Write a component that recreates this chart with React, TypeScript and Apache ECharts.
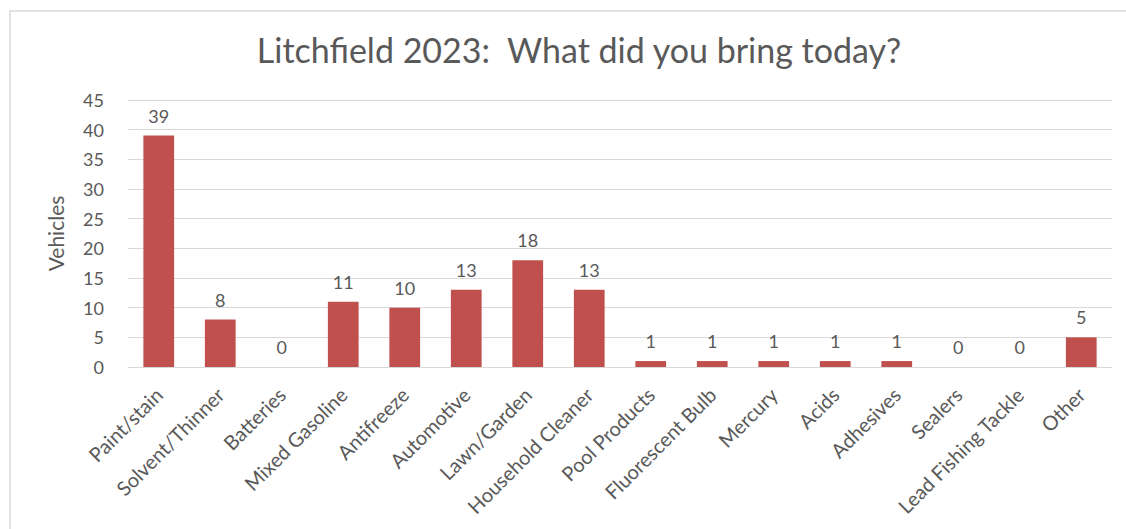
import React, { useEffect, useRef } from "react";
import * as echarts from "echarts";

const categories = [
  "Paint/stain",
  "Solvent/Thinner",
  "Batteries",
  "Mixed Gasoline",
  "Antifreeze",
  "Automotive",
  "Lawn/Garden",
  "Household Cleaner",
  "Pool Products",
  "Fluorescent Bulb",
  "Mercury",
  "Acids",
  "Adhesives",
  "Sealers",
  "Lead Fishing Tackle",
  "Other",
];
const vehicles = [39, 8, 0, 11, 10, 13, 18, 13, 1, 1, 1, 1, 1, 0, 0, 5];
const titleText = "Litchfield 2023:  What did you bring today?";
const yAxisName = "Vehicles";

const FONT = "Lato, 'Open Sans', sans-serif";
const GRAY = "#595959";

export default function App() {
  const ref = useRef<HTMLDivElement>(null);
  useEffect(() => {
    if (!ref.current) return;
    const chart = echarts.init(ref.current, null, { renderer: "svg" });
    chart.setOption({
      animation: false,
      backgroundColor: "#ffffff",
      title: {
        text: titleText,
        left: 574,
        top: 27,
        textAlign: "center",
        textStyle: { fontFamily: FONT, fontSize: 34, fontWeight: "normal", color: GRAY },
      },
      graphic: [
        {
          type: "rect",
          shape: { x: 10, y: 11, width: 1140, height: 540 },
          style: { fill: "none", stroke: "#d9d9d9", lineWidth: 1.5 },
          silent: true,
        },
      ],
      grid: { left: 128, right: 14, top: 100, bottom: 162, containLabel: false },
      xAxis: {
        type: "category",
        data: categories,
        axisLine: { show: true, lineStyle: { color: "#d9d9d9", width: 1 } },
        axisTick: { show: false },
        axisLabel: {
          rotate: 45,
          interval: 0,
          margin: 24,
          fontFamily: FONT,
          fontSize: 20,
          color: GRAY,
        },
      },
      yAxis: {
        type: "value",
        min: 0,
        max: 45,
        interval: 5,
        name: yAxisName,
        nameLocation: "middle",
        nameGap: 62,
        nameRotate: 90,
        nameTextStyle: { fontFamily: FONT, fontSize: 21, color: GRAY },
        axisLine: { show: false },
        axisTick: { show: false },
        axisLabel: { fontFamily: FONT, fontSize: 18, color: GRAY, margin: 24 },
        splitLine: { lineStyle: { color: "#d9d9d9", width: 1 } },
      },
      series: [
        {
          type: "bar",
          data: vehicles,
          barWidth: "50%",
          itemStyle: { color: "#c0504d" },
          label: {
            show: true,
            position: "top",
            distance: 11,
            fontFamily: FONT,
            fontSize: 18,
            color: GRAY,
          },
        },
      ],
    });
    return () => chart.dispose();
  }, []);
  return (
    <div
      ref={ref}
      style={{ position: "fixed", left: 0, top: 0, width: 1126, height: 529 }}
    />
  );
}
